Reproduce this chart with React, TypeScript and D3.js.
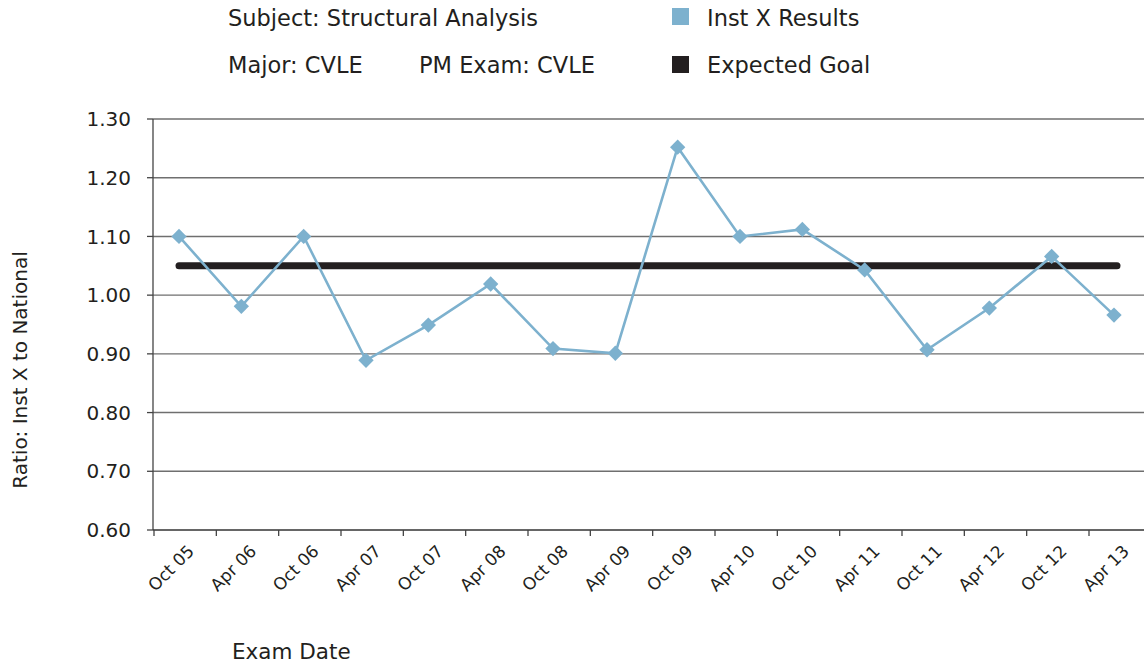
import React from 'react'
import * as d3 from 'd3'

const examDates = ['Oct 05', 'Apr 06', 'Oct 06', 'Apr 07', 'Oct 07', 'Apr 08', 'Oct 08', 'Apr 09',
  'Oct 09', 'Apr 10', 'Oct 10', 'Apr 11', 'Oct 11', 'Apr 12', 'Oct 12', 'Apr 13']
const instResults = [1.10, 0.981, 1.10, 0.889, 0.949, 1.019, 0.909, 0.901,
  1.252, 1.10, 1.112, 1.043, 0.907, 0.978, 1.066, 0.966]
const expectedGoal = 1.05
const yTicks = [0.6, 0.7, 0.8, 0.9, 1.0, 1.1, 1.2, 1.3]

const W = 1144, H = 664
const FONT = '"DejaVu Sans", "Open Sans", sans-serif'
const INK = '#231f20'
const BLUE = '#7db1ce'

export default function App() {
  const x = d3.scalePoint<string>().domain(examDates).range([179, 1114])
  const y = d3.scaleLinear().domain([0.6, 1.3]).range([530, 119])
  const axisLeft = 153
  const tickOff = 25

  const line = d3.line<number>()
    .x((d, i) => x(examDates[i]) as number)
    .y(d => y(d))

  const diamond = d3.symbol().type(d3.symbolDiamond2).size(150)()

  return (
    <svg width={W} height={H} style={{ position: 'absolute', left: 0, top: 0, background: '#fff' }}
      fontFamily={FONT}>
      {/* header + legend */}
      <g fill={INK} fontSize={22.5}>
        <text x={228} y={26}>Subject: Structural Analysis</text>
        <text x={228} y={73}>Major: CVLE</text>
        <text x={419} y={73}>PM Exam: CVLE</text>
        <rect x={672} y={8} width={17} height={17} fill={BLUE} />
        <text x={707} y={26}>Inst X Results</text>
        <rect x={672} y={56} width={17} height={17} fill={INK} />
        <text x={707} y={73}>Expected Goal</text>
      </g>

      {/* gridlines */}
      {yTicks.slice(1).map(t => (
        <line key={t} x1={axisLeft} x2={W} y1={y(t)} y2={y(t)} stroke="#6f6f6f" strokeWidth={1.4} />
      ))}

      {/* y axis */}
      <line x1={axisLeft} x2={axisLeft} y1={y(1.3)} y2={y(0.6)} stroke="#444" strokeWidth={1.3} />
      {yTicks.map(t => (
        <g key={t}>
          <line x1={axisLeft - 6} x2={axisLeft} y1={y(t)} y2={y(t)} stroke="#444" strokeWidth={1.3} />
          <text x={131} y={y(t)} dy="0.36em" textAnchor="end" fontSize={20} fill={INK}>{t.toFixed(2)}</text>
        </g>
      ))}

      {/* x axis */}
      <line x1={axisLeft} x2={W} y1={y(0.6)} y2={y(0.6)} stroke="#333" strokeWidth={1.5} />
      {examDates.map(d => {
        const px = x(d) as number
        return (
          <g key={d}>
            <line x1={px - tickOff} x2={px - tickOff} y1={y(0.6)} y2={y(0.6) + 6} stroke="#444" strokeWidth={1.3} />
            <text transform={`translate(${px - 8},568) rotate(-45)`} textAnchor="middle" dy="0.35em"
              fontSize={17} fill={INK}>{d}</text>
          </g>
        )
      })}

      {/* goal line */}
      <line x1={x(examDates[0])} x2={(x(examDates[examDates.length - 1]) as number) + 3}
        y1={y(expectedGoal)} y2={y(expectedGoal)} stroke={INK} strokeWidth={7} strokeLinecap="round" />

      {/* results */}
      <path d={line(instResults) || ''} fill="none" stroke={BLUE} strokeWidth={2.6} />
      {instResults.map((v, i) => (
        <path key={i} d={diamond || ''} transform={`translate(${x(examDates[i])},${y(v)})`} fill={BLUE} />
      ))}

      {/* axis titles */}
      <text transform="translate(27,370) rotate(-90)" textAnchor="middle" fontSize={20} fill={INK}>
        Ratio: Inst X to National
      </text>
      <text x={232} y={659} fontSize={21.5} fill={INK}>Exam Date</text>
    </svg>
  )
}
